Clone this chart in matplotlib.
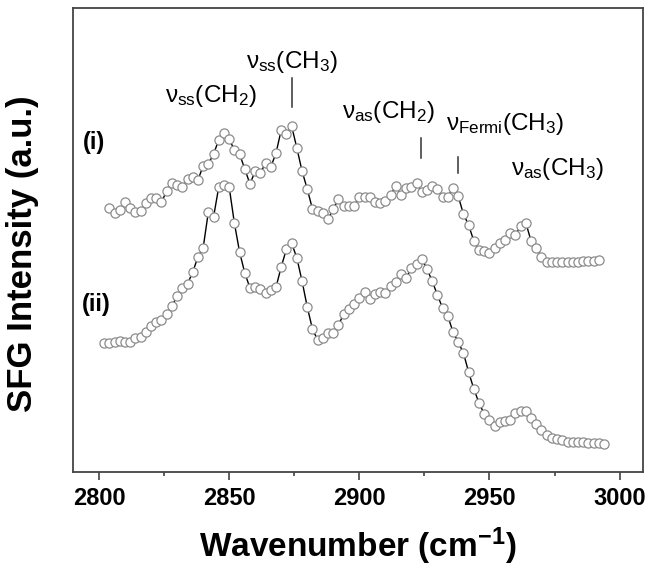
import numpy as np
import matplotlib
matplotlib.use('Agg')
import matplotlib.pyplot as plt
from matplotlib.ticker import MultipleLocator

plt.rcParams['font.family'] = ['Liberation Sans', 'DejaVu Sans']
plt.rcParams['mathtext.default'] = 'regular'

# spectrum (i), 2 cm-1 steps
wn_i = np.arange(2804, 2993, 2)
sfg_i = [264, 259, 262, 270, 264, 260, 261, 269, 274, 274,
         270, 281, 289, 287, 285, 293, 295, 292, 306, 308,
         318, 332, 339, 333, 322, 318, 303, 288, 301, 299,
         309, 305, 319, 342, 338, 346, 324, 301, 283, 263,
         261, 259, 253, 263, 273, 266, 266, 266, 275, 275,
         275, 270, 269, 271, 277, 286, 277, 284, 285, 289,
         280, 282, 286, 283, 275, 275, 284, 276, 258, 247,
         231, 222, 221, 219, 224, 229, 232, 239, 237, 246,
         249, 231, 224, 215, 210, 210, 210, 210, 210, 210,
         210, 211, 211, 211, 212]

# spectrum (ii)
wn_ii = np.arange(2802, 2995, 2)
sfg_ii = [129, 129, 130, 131, 130, 130, 134, 135, 140, 146,
          150, 152, 158, 166, 176, 184, 188, 200, 215, 224,
          260, 255, 285, 287, 285, 249, 220, 199, 184, 185,
          183, 179, 182, 185, 205, 223, 229, 214, 191, 165,
          143, 132, 134, 139, 139, 147, 158, 163, 168, 174,
          180, 173, 178, 180, 179, 186, 190, 198, 194, 204,
          208, 213, 203, 191, 177, 164, 156, 140, 130, 119,
          100, 83, 69, 58, 52, 46, 50, 51, 52, 59,
          61, 61, 54, 48, 42, 37, 34, 33, 32, 30,
          30, 30, 30, 29, 29, 29, 28]

# peak labels
peak_text = [r'$ν_{ss}$(CH$_2$)', r'$ν_{ss}$(CH$_3$)', r'$ν_{as}$(CH$_2$)',
             r'$ν_{Fermi}$(CH$_3$)', r'$ν_{as}$(CH$_3$)']
text_x = [2843, 2874, 2911, 2956, 2976]
text_y = [376, 410, 360, 348, 303]
# small vertical markers
mark_x = [2874, 2923.7, 2938]
mark_y0 = [365, 314, 299]
mark_y1 = [394, 334, 315]

fig = plt.figure(figsize=(6.54, 5.76), dpi=100)
ax = fig.add_axes([73/654, 104/576, 570/654, 464/576])

for wn, s in [(wn_i, sfg_i), (wn_ii, sfg_ii)]:
    ax.plot(wn, s, color='black', lw=1.0, zorder=2)
    ax.plot(wn, s, 'o', ms=6.6, mfc='white', mec='#8c8c8c', mew=0.9, zorder=3)

for t, x, y in zip(peak_text, text_x, text_y):
    ax.text(x, y, t, ha='center', va='center', fontsize=17.5)
for x, y0, y1 in zip(mark_x, mark_y0, mark_y1):
    ax.plot([x, x], [y0, y1], color='#333333', lw=1.1)

ax.text(2798, 330, '(i)', ha='center', va='center', fontsize=17, fontweight='bold')
ax.text(2799, 168, '(ii)', ha='center', va='center', fontsize=17, fontweight='bold')

ax.set_xlim(2790, 3009)
ax.set_ylim(0, 464)
ax.set_yticks([])
ax.set_xticks([2800, 2850, 2900, 2950, 3000])
ax.xaxis.set_minor_locator(MultipleLocator(25))
ax.tick_params(axis='x', which='major', length=6, width=1.2, labelsize=17, pad=5, color='#444444')
ax.tick_params(axis='x', which='minor', length=3, width=1.2, color='#444444')
for lab in ax.get_xticklabels():
    lab.set_fontweight('bold')
for sp in ax.spines.values():
    sp.set_linewidth(1.3)
    sp.set_color('#444444')

ax.set_xlabel('Wavenumber (cm$^{-1}$)', fontsize=24, fontweight='bold', labelpad=11)
ax.set_ylabel('SFG Intensity (a.u.)', fontsize=25, fontweight='bold')
ax.yaxis.set_label_coords(-0.06, 0.47)

fig.savefig('out.png', dpi=100)
